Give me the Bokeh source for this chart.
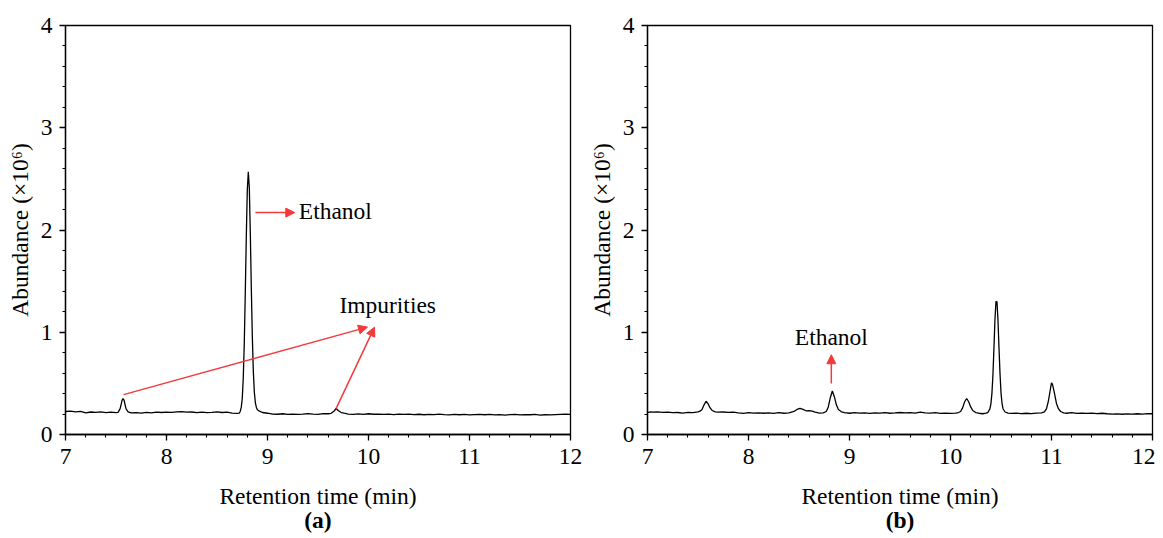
from bokeh.plotting import figure
from bokeh.layouts import row
from bokeh.models import Range1d, SingleIntervalTicker, FixedTicker, Arrow, NormalHead, Label, LinearAxis
from bokeh.embed import file_html
from bokeh.resources import INLINE

# ---- data ----
time_a = [7.00, 7.05, 7.10, 7.15, 7.20, 7.25, 7.30, 7.35, 7.40, 7.45, 7.50,
          7.52, 7.54, 7.55, 7.56, 7.57, 7.58, 7.59, 7.60, 7.62, 7.65,
          7.70, 7.75, 7.80, 7.85, 7.90, 7.95, 8.00, 8.05, 8.10, 8.15, 8.20, 8.25, 8.30, 8.35,
          8.40, 8.45, 8.50, 8.55, 8.60, 8.65, 8.70, 8.72,
          8.73, 8.74, 8.75, 8.76, 8.77, 8.78, 8.79, 8.80, 8.81, 8.82, 8.83, 8.84, 8.85, 8.86,
          8.87, 8.88, 8.89, 8.90, 8.92, 8.95, 9.00,
          9.05, 9.10, 9.15, 9.20, 9.25, 9.30, 9.35, 9.40, 9.45, 9.50, 9.55, 9.60, 9.63, 9.66,
          9.68, 9.70, 9.73, 9.76, 9.80, 9.85, 9.90, 9.95, 10.00, 10.05, 10.10, 10.15, 10.20,
          10.25, 10.30, 10.35, 10.40, 10.45, 10.50, 10.55, 10.60, 10.65, 10.70, 10.75, 10.80,
          10.85, 10.90, 10.95, 11.00, 11.05, 11.10, 11.15, 11.20, 11.25, 11.30, 11.35, 11.40,
          11.45, 11.50, 11.55, 11.60, 11.65, 11.70, 11.75, 11.80, 11.85, 11.90, 11.95, 12.00]
abund_a = [0.225, 0.228, 0.222, 0.226, 0.212, 0.220, 0.216, 0.221, 0.214, 0.218, 0.213,
           0.216, 0.250, 0.290, 0.335, 0.352, 0.335, 0.290, 0.250, 0.222, 0.212,
           0.214, 0.210, 0.216, 0.212, 0.218, 0.215, 0.219, 0.216, 0.221, 0.224, 0.218, 0.220, 0.214, 0.218,
           0.213, 0.217, 0.222, 0.215, 0.218, 0.210, 0.207, 0.210,
           0.225, 0.265, 0.350, 0.550, 0.890, 1.380, 1.930, 2.390, 2.570, 2.410, 1.960, 1.420, 0.950, 0.610,
           0.410, 0.310, 0.265, 0.242, 0.228, 0.215, 0.208,
           0.200, 0.198, 0.203, 0.196, 0.200, 0.197, 0.199, 0.204, 0.200, 0.197, 0.205, 0.203, 0.207, 0.230,
           0.255, 0.235, 0.215, 0.208, 0.200, 0.196, 0.201, 0.197, 0.203, 0.198, 0.200, 0.196, 0.199,
           0.194, 0.199, 0.196, 0.200, 0.195, 0.198, 0.193, 0.197, 0.194, 0.199, 0.195, 0.192,
           0.197, 0.193, 0.196, 0.192, 0.195, 0.197, 0.193, 0.196, 0.192, 0.195, 0.190, 0.194,
           0.196, 0.192, 0.195, 0.193, 0.196, 0.190, 0.193, 0.191, 0.194, 0.196, 0.198, 0.197]

time_b = [7.00, 7.03, 7.05, 7.10, 7.15, 7.20, 7.25, 7.30, 7.35, 7.40, 7.45, 7.50,
          7.52, 7.54, 7.56, 7.58, 7.60, 7.62, 7.64, 7.67, 7.70, 7.75, 7.80, 7.85, 7.90, 7.95,
          8.00, 8.05, 8.10, 8.15, 8.20, 8.25, 8.30, 8.35, 8.40, 8.45, 8.48, 8.51, 8.54, 8.57,
          8.60, 8.63, 8.66, 8.70, 8.74,
          8.77, 8.79, 8.81, 8.83, 8.85, 8.87, 8.89, 8.92, 8.95, 9.00, 9.05, 9.10, 9.15, 9.20,
          9.25, 9.30, 9.35, 9.40, 9.45, 9.50, 9.55, 9.60, 9.65, 9.70, 9.75, 9.80, 9.85, 9.90,
          9.95, 10.00, 10.05, 10.08,
          10.10, 10.12, 10.14, 10.16, 10.18, 10.20, 10.22, 10.25, 10.28, 10.32, 10.35,
          10.37, 10.39, 10.40, 10.41, 10.42, 10.43, 10.44, 10.45, 10.46, 10.47, 10.48, 10.49,
          10.50, 10.51, 10.52, 10.54, 10.57, 10.60, 10.65, 10.70, 10.75, 10.80, 10.85, 10.90, 10.93,
          10.95, 10.97, 10.99, 11.00, 11.01, 11.03, 11.05, 11.07, 11.09, 11.12, 11.15, 11.20,
          11.25, 11.30, 11.35, 11.40, 11.45, 11.50, 11.55, 11.60, 11.65, 11.70, 11.75, 11.80,
          11.85, 11.90, 11.95, 12.00]
abund_b = [0.215, 0.222, 0.218, 0.221, 0.216, 0.219, 0.213, 0.215, 0.210, 0.216, 0.214, 0.222,
           0.228, 0.245, 0.290, 0.325, 0.300, 0.260, 0.235, 0.222, 0.218, 0.220, 0.216, 0.219, 0.212, 0.207,
           0.213, 0.210, 0.212, 0.208, 0.211, 0.207, 0.214, 0.208, 0.212, 0.225, 0.245, 0.255, 0.245, 0.232,
           0.234, 0.228, 0.218, 0.210, 0.212,
           0.225, 0.270, 0.360, 0.425, 0.370, 0.290, 0.245, 0.222, 0.213, 0.208, 0.214, 0.210, 0.212, 0.207,
           0.211, 0.209, 0.213, 0.208, 0.211, 0.215, 0.212, 0.214, 0.210, 0.219, 0.212, 0.209, 0.213, 0.207,
           0.210, 0.206, 0.210, 0.215,
           0.225, 0.260, 0.320, 0.352, 0.320, 0.270, 0.235, 0.215, 0.208, 0.203, 0.210,
           0.215, 0.250, 0.300, 0.400, 0.580, 0.840, 1.120, 1.300, 1.300, 1.120, 0.850, 0.600,
           0.410, 0.305, 0.252, 0.220, 0.210, 0.206, 0.210, 0.204, 0.208, 0.205, 0.209, 0.212, 0.222,
           0.250, 0.330, 0.450, 0.505, 0.490, 0.400, 0.300, 0.250, 0.225, 0.212, 0.208, 0.213,
           0.207, 0.210, 0.206, 0.209, 0.205, 0.208, 0.203, 0.199, 0.202, 0.198, 0.201, 0.199,
           0.203, 0.200, 0.204, 0.203]

x_ticks_interval = 1
y_ticks_interval = 1
x_label = "Retention time (min)"
y_label = "Abundance (\u00d710\u2076)"
panel_tags = ["(a)", "(b)"]

FONT = "Liberation Serif"
FS = "23.5px"
RED = "#f23a3a"


def make_panel(t, a, tag, left_border, right_border):
    p = figure(frame_width=505, frame_height=409, output_backend="svg", toolbar_location=None,
               x_range=Range1d(7, 12), y_range=Range1d(0, 4),
               min_border_left=left_border, min_border_right=right_border, min_border_top=25,
               min_border_bottom=4)
    p.xgrid.visible = False
    p.ygrid.visible = False
    p.outline_line_color = "black"
    p.outline_line_width = 1.3
    p.outline_line_alpha = 1
    p.line(t, a, line_color="black", line_width=1.3)
    for ax in (p.xaxis[0], p.yaxis[0]):
        ax.axis_line_width = 1.3
        ax.major_tick_line_width = 1.3
        ax.minor_tick_line_width = 1.1
        ax.major_tick_in = 0
        ax.major_tick_out = 6
        ax.minor_tick_in = 0
        ax.minor_tick_out = 3
        ax.major_label_text_font = FONT
        ax.major_label_text_font_size = FS
        ax.major_label_text_color = "black"
        ax.axis_label_text_font = FONT
        ax.axis_label_text_font_size = FS
        ax.axis_label_text_font_style = "normal"
        ax.axis_label_text_color = "black"
    p.xaxis.ticker = SingleIntervalTicker(interval=x_ticks_interval, num_minor_ticks=5)
    p.yaxis.ticker = SingleIntervalTicker(interval=y_ticks_interval, num_minor_ticks=5)
    p.xaxis.axis_label = x_label
    p.yaxis.axis_label = y_label
    p.xaxis.axis_label_standoff = 16
    p.xaxis.major_label_standoff = 8
    p.yaxis.major_label_standoff = 7
    p.yaxis.axis_label_standoff = 5
    # panel tag as the label of a bare second axis below
    tag_axis = LinearAxis(ticker=FixedTicker(ticks=[]), axis_label=tag,
                          axis_line_color=None, major_tick_line_color=None,
                          minor_tick_line_color=None, major_label_text_font_size="0px",
                          major_tick_out=0, minor_tick_out=0, major_label_standoff=0,
                          axis_label_standoff=-5, axis_label_text_font=FONT,
                          axis_label_text_font_size=FS, axis_label_text_font_style="bold",
                          axis_label_text_color="black")
    p.add_layout(tag_axis, "below")
    return p


p1 = make_panel(time_a, abund_a, panel_tags[0], 65, 15)
p2 = make_panel(time_b, abund_b, panel_tags[1], 62, 3)


def arrow(p, x0, y0, x1, y1):
    p.add_layout(Arrow(end=NormalHead(size=9, fill_color=RED, line_color=RED, line_width=1),
                       x_start=x0, y_start=y0, x_end=x1, y_end=y1,
                       line_color=RED, line_width=1.5))


def label(p, x, y, txt, align="left"):
    p.add_layout(Label(x=x, y=y, text=txt, text_font=FONT, text_font_size=FS,
                       text_color="black", text_align=align, text_baseline="middle"))


# panel (a) annotations
arrow(p1, 8.88, 2.17, 9.27, 2.17)
label(p1, 9.31, 2.19, "Ethanol")
arrow(p1, 7.575, 0.39, 9.99, 1.05)
arrow(p1, 9.68, 0.255, 10.06, 1.05)
label(p1, 10.19, 1.27, "Impurities", align="center")

# panel (b) annotations
arrow(p2, 8.82, 0.50, 8.82, 0.78)
label(p2, 8.82, 0.95, "Ethanol", align="center")

layout = row(p1, p2)
open("out.html", "w").write(file_html(layout, INLINE))
